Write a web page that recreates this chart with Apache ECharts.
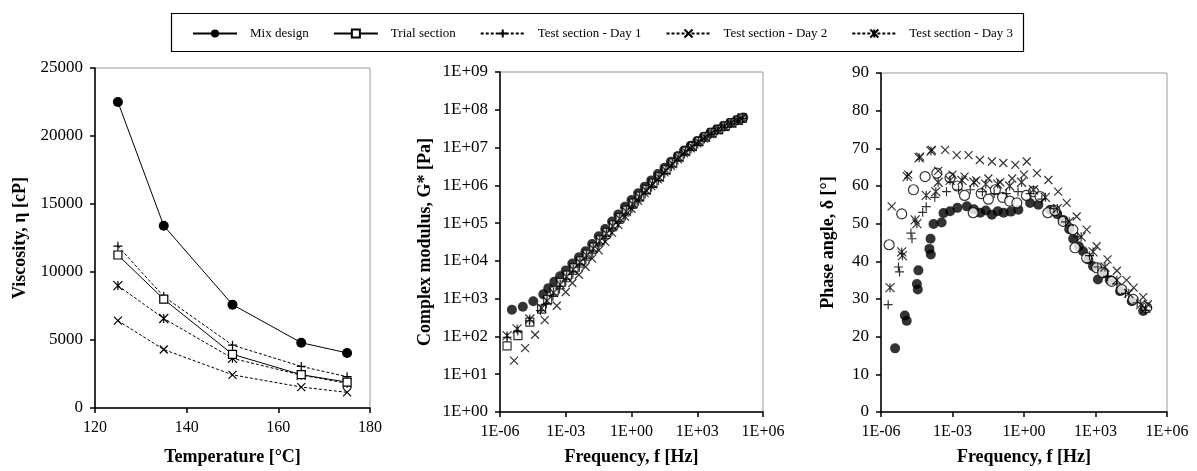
<!DOCTYPE html>
<html>
<head>
<meta charset="utf-8">
<script src="https://cdn.jsdelivr.net/npm/echarts@6/dist/echarts.min.js"></script>
<style>
html,body{margin:0;padding:0;background:#fff;}
#chart{width:1197px;height:471px;}
</style>
</head>
<body>
<div id="chart"></div>
<script>
// ---------- DATA ----------
const seriesNames = ['Mix design', 'Trial section', 'Test section - Day 1', 'Test section - Day 2', 'Test section - Day 3'];

// Viscosity vs temperature
const tempC = [125, 135, 150, 165, 175];
const viscMix   = [22500, 13400, 7600, 4800, 4050];
const viscTrial = [11250, 8000, 3950, 2450, 1900];
const viscDay1  = [11900, 8200, 4620, 3060, 2300];
const viscDay2  = [6420, 4300, 2440, 1540, 1150];
const viscDay3  = [9000, 6580, 3650, 2420, 1820];

// Complex modulus G* [Pa] vs frequency f [Hz]
const gMixF = [3.5e-6,1.1e-5,3.3e-5,9.5e-5,1.6e-4,3.0e-4,5.5e-4,1.0e-3,2.0e-3,4.0e-3,8.0e-3,1.6e-2,3.2e-2,6.3e-2,0.13,0.25,0.5,1.0,2.0,4.0,8.0,16,32,63,130,250,500,1000,2000,4000,7900,16000,32000,63000,126000];
const gMixV = [510,610,850,1300,1900,2800,3900,5600,8500,1.25e4,1.8e4,2.8e4,4.5e4,7.0e4,1.1e5,1.7e5,2.7e5,4.1e5,6.2e5,9.2e5,1.35e6,2.0e6,2.9e6,4.2e6,6.0e6,8.3e6,1.12e7,1.48e7,1.92e7,2.5e7,3.05e7,3.7e7,4.5e7,5.3e7,6.2e7];
const gTrialF = [2.1e-6,6.6e-6,2.3e-5,7.9e-5,1.5e-4,3.0e-4,6.0e-4,1.2e-3,2.4e-3,4.8e-3,9.5e-3,1.9e-2,3.8e-2,7.6e-2,0.15,0.3,0.6,1.2,2.4,4.8,9.5,19,38,76,150,300,600,1200,2400,4800,9500,19000,38000,76000,110000];
const gTrialV = [56,105,240,530,950,1600,2700,4200,6500,1.0e4,1.5e4,2.3e4,3.6e4,5.7e4,9.0e4,1.4e5,2.2e5,3.4e5,5.2e5,7.8e5,1.15e6,1.7e6,2.6e6,3.9e6,5.7e6,8.0e6,1.08e7,1.45e7,1.9e7,2.45e7,3.0e7,3.7e7,4.5e7,5.3e7,6.0e7];
const gDay1F = [2.1e-6,6.5e-6,2.2e-5,7.0e-5,1.3e-4,2.6e-4,5.2e-4,1.0e-3,2.1e-3,4.2e-3,8.3e-3,1.7e-2,3.3e-2,6.6e-2,0.13,0.26,0.52,1.05,2.1,4.2,8.3,17,33,66,130,260,520,1050,2100,4200,8300,17000,33000,66000,120000];
const gDay1V = [95,140,260,480,720,1150,1800,2800,4400,6800,1.05e4,1.6e4,2.5e4,3.9e4,6.2e4,9.8e4,1.55e5,2.45e5,3.8e5,5.9e5,9.0e5,1.35e6,2.05e6,3.1e6,4.6e6,6.6e6,9.2e6,1.25e7,1.68e7,2.2e7,2.8e7,3.45e7,4.25e7,5.1e7,5.9e7];
const gDay2F = [4.4e-6,1.4e-5,4.0e-5,1.1e-4,3.9e-4,1.0e-3,2.0e-3,4.0e-3,8.0e-3,1.6e-2,3.2e-2,6.3e-2,0.13,0.25,0.5,1.0,2.0,4.0,8.0,16,32,63,130,250,500,1000,2000,4000,8000,16000,32000,63000,100000];
const gDay2V = [23,49,111,270,650,1500,2600,4300,7000,1.15e4,1.9e4,3.2e4,5.5e4,9.0e4,1.5e5,2.4e5,3.9e5,6.2e5,9.5e5,1.45e6,2.2e6,3.3e6,4.9e6,7.0e6,9.6e6,1.3e7,1.72e7,2.25e7,2.85e7,3.5e7,4.3e7,5.1e7,5.8e7];
const gDay3F = [2.1e-6,6.0e-6,2.3e-5,8.0e-5,1.4e-4,2.8e-4,5.6e-4,1.1e-3,2.2e-3,4.5e-3,9.0e-3,1.8e-2,3.6e-2,7.2e-2,0.14,0.29,0.58,1.15,2.3,4.6,9.2,18,37,73,145,290,580,1150,2300,4600,9200,18000,37000,73000,115000];
const gDay3V = [105,158,290,560,880,1450,2400,3800,5900,9200,1.4e4,2.15e4,3.4e4,5.3e4,8.4e4,1.32e5,2.05e5,3.2e5,4.9e5,7.4e5,1.1e6,1.65e6,2.5e6,3.75e6,5.5e6,7.8e6,1.06e7,1.42e7,1.87e7,2.42e7,3.0e7,3.65e7,4.45e7,5.25e7,6.1e7];

// Phase angle δ [°] vs frequency f [Hz]
const pMixF = [3.9e-6,1.0e-5,1.2e-5,3.2e-5,3.5e-5,3.7e-5,1.07e-4,1.23e-4,1.2e-4,1.6e-4,3.5e-4,4.2e-4,7.9e-4,1.6e-3,4.0e-3,7.9e-3,1.45e-2,2.5e-2,4.5e-2,7.9e-2,0.14,0.28,0.58,1.8,4.0,12.6,25,44,79,115,200,300,500,790,1260,2240,4000,10700,33000,100000];
const pMixV = [16.9,25.6,24.2,34.0,32.5,37.6,43.3,41.8,46.0,49.9,50.3,52.8,53.3,54.2,54.6,53.8,52.9,53.5,52.4,53.3,52.9,53.2,53.7,55.5,55.0,53.7,52.5,51.0,48.5,46.0,44.0,42.7,40.5,38.7,35.2,36.8,35.0,32.1,29.4,26.8];
const pTrialF = [2.2e-6,7.4e-6,2.3e-5,7.1e-5,2.2e-4,7.9e-4,1.6e-3,3.2e-3,7.4e-3,1.6e-2,3.2e-2,6.3e-2,0.126,0.25,0.5,1.26,2.5,4.7,10,20,44,112,138,427,1120,2000,4800,12600,38000,141000];
const pTrialV = [44.4,52.6,59.0,62.5,63.4,62.2,60.0,57.5,52.9,58.0,56.5,59.0,57.0,56.0,55.5,57.5,58.5,57.2,52.9,53.5,50.6,48.4,43.6,40.9,38.3,37.0,34.7,32.5,29.9,27.7];
const pDay1F = [2.0e-6,5.4e-6,6.0e-6,1.8e-5,2.0e-5,5.6e-5,7.9e-5,1.8e-4,5.6e-4,1.8e-3,5.6e-3,1.8e-2,5.6e-2,0.18,0.56,1.8,5.6,18,56,180,560,1260,3200,7900,18000,56000,126000];
const pDay1V = [28.5,38.5,37.2,47.5,46.0,53.0,54.5,57.0,58.5,59.0,59.0,58.5,58.0,58.0,58.5,58.0,56.5,54.0,50.5,46.5,41.5,38.5,36.0,34.0,31.5,29.0,27.0];
const pDay2F = [2.8e-6,1.4e-5,4.4e-5,1.35e-4,4.9e-4,1.5e-3,4.7e-3,1.4e-2,4.5e-2,0.135,0.43,1.3,3.5,10.5,27,62,162,427,1120,3200,7900,20000,40000,100000,158000,2.5e-4,1.0e-3,3.2e-3,1.0e-2,3.2e-2,0.1,0.32,1.0];
const pDay2V = [54.6,63.0,67.8,69.6,69.6,68.2,68.2,66.9,66.5,66.1,65.6,66.5,63.4,61.6,58.5,55.5,51.9,48.4,44.0,40.5,37.5,35.0,33.0,30.5,28.6,64.0,63.0,62.5,61.5,62.0,61.0,62.0,63.0];
const pDay3F = [2.4e-6,7.4e-6,7.9e-6,2.7e-5,3.2e-5,7.9e-5,2.0e-4,1.26e-5,4.0e-5,1.26e-4,2.5e-4,7.9e-4,2.5e-3,7.9e-3,2.5e-2,7.9e-2,0.25,0.79,2.5,7.9,25,79,250,790,2500,7900,25000,79000,126000];
const pDay3V = [33.0,42.5,41.5,51.0,50.0,57.5,58.5,62.5,67.5,69.3,61.0,61.5,61.5,61.0,60.5,60.5,60.0,61.0,59.0,57.0,54.0,50.5,46.5,42.5,38.5,35.0,31.5,28.5,27.5];

// ---------- HELPERS ----------
function pairs(xs, ys) { return xs.map((x, i) => [x, ys[i]]); }
function sci(v) {
  const e = Math.round(Math.log10(v));
  return '1E' + (e < 0 ? '-' : '+') + String(Math.abs(e)).padStart(2, '0');
}
function plain(v) { return String(v); }
const FONT = 'Liberation Serif';
const PLUS = 'path://M5,0L5,10M0,5L10,5';
const CROSS = 'path://M0,0L10,10M10,0L0,10';
const STAR = 'path://M0,0L10,10M10,0L0,10M5,0L5,10';

const markers = [
  {symbol: 'circle', size: 10, itemStyle: {color: '#000', borderColor: '#000', borderWidth: 0}},
  {symbol: 'rect', size: 8, itemStyle: {color: '#fff', borderColor: '#000', borderWidth: 1.2}},
  {symbol: PLUS, size: 9, itemStyle: {color: 'rgba(0,0,0,0)', borderColor: '#000', borderWidth: 1.2}},
  {symbol: CROSS, size: 8, itemStyle: {color: 'rgba(0,0,0,0)', borderColor: '#000', borderWidth: 1.2}},
  {symbol: STAR, size: 9, itemStyle: {color: 'rgba(0,0,0,0)', borderColor: '#000', borderWidth: 1.2}}
];
const viscData = [viscMix, viscTrial, viscDay1, viscDay2, viscDay3];
const gData = [[gMixF, gMixV], [gTrialF, gTrialV], [gDay1F, gDay1V], [gDay2F, gDay2V], [gDay3F, gDay3V]];
const pData = [[pMixF, pMixV], [pTrialF, pTrialV], [pDay1F, pDay1V], [pDay2F, pDay2V], [pDay3F, pDay3V]];

const axisLineStyle = {color: '#000', width: 1.5};
const tickStyle = {show: true, inside: false, length: 5, lineStyle: {color: '#000', width: 1.5}};
const xLab = {color: '#000', fontFamily: FONT, fontSize: 16, margin: 12};
const yLab = {color: '#000', fontFamily: FONT, fontSize: 17, margin: 12};
const nameStyle = {color: '#000', fontFamily: FONT, fontSize: 18, fontWeight: 'bold'};

const series = [];
// Left: viscosity lines
viscData.forEach((vals, i) => {
  series.push({
    name: seriesNames[i], type: 'line', xAxisIndex: 0, yAxisIndex: 0,
    data: pairs(tempC, vals),
    symbol: markers[i].symbol, symbolSize: markers[i].size,
    itemStyle: markers[i].itemStyle,
    lineStyle: {color: '#000', width: 1, type: i < 2 ? 'solid' : [3, 2]},
    z: 5 - i, animation: false
  });
});
// Middle: G*
gData.forEach((d, i) => {
  series.push({
    name: seriesNames[i], type: 'scatter', xAxisIndex: 1, yAxisIndex: 1,
    data: pairs(d[0], d[1]),
    symbol: markers[i].symbol, symbolSize: markers[i].size,
    itemStyle: markers[i].itemStyle, animation: false
  });
});
// Right: phase angle (trial section drawn with open circles)
pData.forEach((d, i) => {
  const sym = i === 1 ? 'circle' : markers[i].symbol;
  const size = i === 1 ? 10 : markers[i].size;
  series.push({
    name: seriesNames[i], type: 'scatter', xAxisIndex: 2, yAxisIndex: 2,
    data: pairs(d[0], d[1]),
    symbol: sym, symbolSize: size,
    itemStyle: markers[i].itemStyle, animation: false
  });
});

const gridBase = {show: true, borderColor: '#999', borderWidth: 1, backgroundColor: '#fff'};

const option = {
  animation: false,
  backgroundColor: '#fff',
  graphic: [{
    type: 'rect', left: 169, top: 11,
    shape: {width: 852, height: 38},
    style: {fill: 'none', stroke: '#000', lineWidth: 1.2}
  }],
  legend: {
    data: seriesNames,
    left: 187, top: 22,
    itemWidth: 44, itemHeight: 10, itemGap: 24,
    textStyle: {color: '#000', fontFamily: FONT, fontSize: 13, padding: [0, 0, 0, 8]},
    selectedMode: false
  },
  grid: [
    Object.assign({left: 95, top: 68, width: 275, height: 342}, gridBase),
    Object.assign({left: 500, top: 72, width: 263, height: 341}, gridBase),
    Object.assign({left: 881, top: 73, width: 286, height: 340}, gridBase)
  ],
  xAxis: [
    {gridIndex: 0, type: 'value', min: 120, max: 180, interval: 20,
     axisLine: {show: true, onZero: false, lineStyle: axisLineStyle}, axisTick: tickStyle,
     axisLabel: Object.assign({formatter: plain}, xLab), splitLine: {show: false},
     name: 'Temperature [°C]', nameLocation: 'middle', nameGap: 40, nameTextStyle: nameStyle},
    {gridIndex: 1, type: 'log', logBase: 10, min: 1e-6, max: 1e6, interval: 3,
     axisLine: {show: true, onZero: false, lineStyle: axisLineStyle}, axisTick: tickStyle,
     axisLabel: Object.assign({formatter: sci}, xLab), splitLine: {show: false}, minorTick: {show: false},
     name: 'Frequency, f [Hz]', nameLocation: 'middle', nameGap: 36, nameTextStyle: nameStyle},
    {gridIndex: 2, type: 'log', logBase: 10, min: 1e-6, max: 1e6, interval: 3,
     axisLine: {show: true, onZero: false, lineStyle: axisLineStyle}, axisTick: tickStyle,
     axisLabel: Object.assign({formatter: sci}, xLab), splitLine: {show: false}, minorTick: {show: false},
     name: 'Frequency, f [Hz]', nameLocation: 'middle', nameGap: 36, nameTextStyle: nameStyle}
  ],
  yAxis: [
    {gridIndex: 0, type: 'value', min: 0, max: 25000, interval: 5000,
     axisLine: {show: true, onZero: false, lineStyle: axisLineStyle}, axisTick: tickStyle,
     axisLabel: Object.assign({formatter: plain}, yLab), splitLine: {show: false},
     name: 'Viscosity, η [cP]', nameLocation: 'middle', nameGap: 66, nameTextStyle: nameStyle},
    {gridIndex: 1, type: 'log', logBase: 10, min: 1, max: 1e9, interval: 1,
     axisLine: {show: true, onZero: false, lineStyle: axisLineStyle}, axisTick: tickStyle,
     axisLabel: Object.assign({formatter: sci}, yLab), splitLine: {show: false}, minorTick: {show: false},
     name: 'Complex modulus, G* [Pa]', nameLocation: 'middle', nameGap: 66, nameTextStyle: nameStyle},
    {gridIndex: 2, type: 'value', min: 0, max: 90, interval: 10,
     axisLine: {show: true, onZero: false, lineStyle: axisLineStyle}, axisTick: tickStyle,
     axisLabel: Object.assign({formatter: plain}, yLab), splitLine: {show: false},
     name: 'Phase angle, δ [°]', nameLocation: 'middle', nameGap: 44, nameTextStyle: nameStyle}
  ],
  series: series
};

const chart = echarts.init(document.getElementById('chart'), null, {renderer: 'canvas'});
chart.setOption(option);
</script>
</body>
</html>
